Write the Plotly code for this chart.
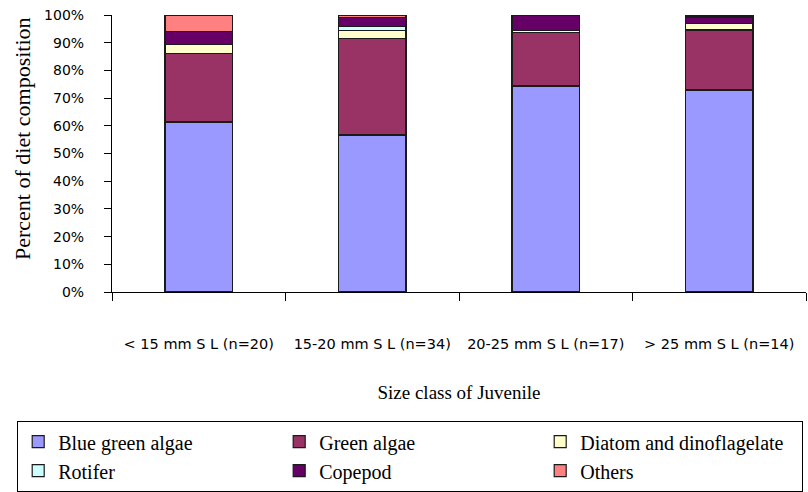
import plotly.graph_objects as go

categories = ["< 15 mm S L (n=20)", "15-20 mm S L (n=34)", "20-25 mm S L (n=17)", "> 25 mm S L (n=14)"]
blue_green_algae = [61.4, 56.7, 74.4, 72.9]
green_algae = [24.8, 34.9, 19.2, 21.7]
diatom_dinoflagelate = [3.2, 2.7, 0.8, 2.4]
rotifer = [0.0, 1.5, 0.0, 0.0]
copepod = [4.6, 3.4, 5.6, 2.3]
others = [6.0, 0.8, 0.0, 0.7]

series = [
    ("Blue green algae", blue_green_algae, "#9999FF"),
    ("Green algae", green_algae, "#993366"),
    ("Diatom and dinoflagelate", diatom_dinoflagelate, "#FFFFCC"),
    ("Rotifer", rotifer, "#CCFFFF"),
    ("Copepod", copepod, "#660066"),
    ("Others", others, "#FF8080"),
]

fig = go.Figure()
for name, vals, col in series:
    fig.add_trace(go.Bar(
        x=categories, y=vals, name=name,
        marker=dict(color=col, line=dict(color="#1a1a1a", width=1.2)),
    ))

fig.add_annotation(
    text="Percent of diet composition", textangle=-90,
    xref="paper", yref="paper", x=(22 - 112) / 694, y=(292 - 139) / 277,
    xanchor="center", yanchor="middle", showarrow=False,
    font=dict(family="Liberation Serif", size=22, color="black"),
)

fig.update_layout(
    barmode="stack",
    bargap=0.61,
    width=808, height=492,
    margin=dict(l=112, r=2, t=15, b=200, autoexpand=False),
    paper_bgcolor="white", plot_bgcolor="white",
    font=dict(family="Liberation Sans", color="black"),
    xaxis=dict(
        type="category", range=[-0.5, 3.5], automargin=False,
        tickson="boundaries", ticks="outside", ticklen=8, tickcolor="black",
        showline=True, linecolor="black", linewidth=1.2,
        ticklabelstandoff=38,
        tickfont=dict(family="DejaVu Sans", size=14.5, color="black"),
        title=dict(text="Size class of Juvenile", standoff=35,
                   font=dict(family="Liberation Serif", size=19, color="black")),
        showgrid=False,
    ),
    yaxis=dict(
        range=[0, 100], dtick=10, ticksuffix="%", automargin=False,
        ticks="outside", ticklen=7, tickcolor="black",
        showline=True, linecolor="black", linewidth=1.2,
        ticklabelstandoff=17,
        tickfont=dict(family="DejaVu Sans", size=14, color="black"),
        showgrid=False, zeroline=False,
    ),
    legend=dict(
        orientation="h",
        xref="paper", yref="paper",
        x=(17 - 112) / 694, y=(292 - 421) / 277, xanchor="left", yanchor="top",
        bordercolor="black", borderwidth=1.2, bgcolor="white",
        entrywidth=216, entrywidthmode="pixels",
        traceorder="normal",
        font=dict(family="Liberation Serif", size=20, color="black"),
    ),
)

fig.write_html("out.html", config={"displayModeBar": False},
               post_script="document.body.style.margin='0';document.body.style.overflow='hidden';")
